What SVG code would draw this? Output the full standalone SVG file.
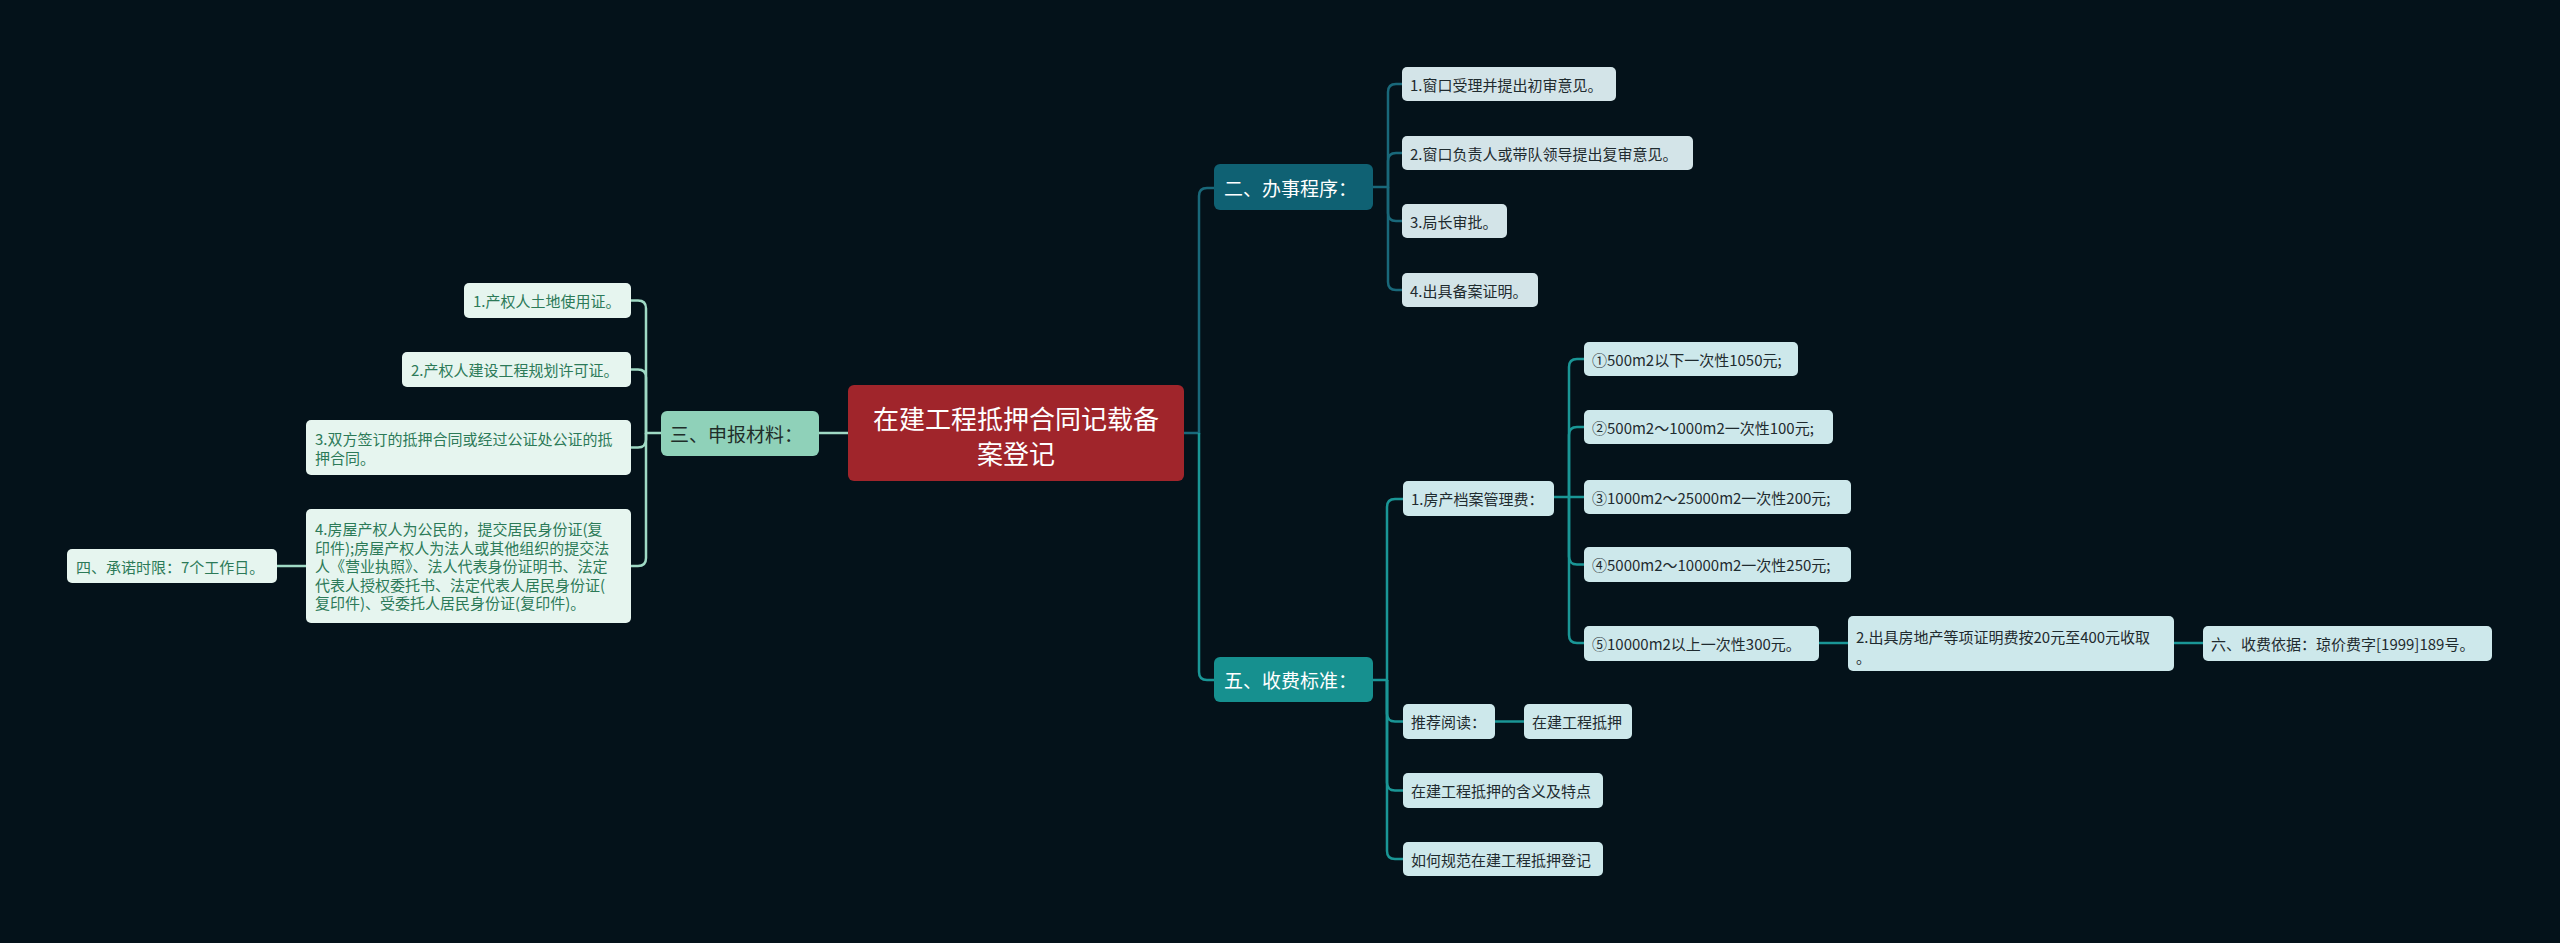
<svg xmlns="http://www.w3.org/2000/svg" width="2560" height="943" viewBox="0 0 2560 943">
<style>
text{font-family:"Noto Sans CJK SC","Noto Sans",sans-serif;dominant-baseline:central}
.c{fill:none;stroke-width:2.5}
.cl{stroke:#9fd9c4}
.cu{stroke:#19687a}
.cd{stroke:#1a9696}
.leafL rect{fill:#e6f5ef}
.leafL text{fill:#2c7a58;font-size:15px}
.leafU rect{fill:#d3e4e8}
.leafU text{fill:#1f2b2f;font-size:15px}
.leafD rect{fill:#cde8eb}
.leafD text{fill:#1f2b2f;font-size:15px}
.main text{fill:#ffffff;font-size:19px}
</style>
<rect x="0" y="0" width="2560" height="943" fill="#04121a"/>
<g id="connectors">
<path class="c cl" d="M848,433 H819"/>
<path class="c cl" d="M661,433 H646 V308.5 Q646,300.5 638,300.5 H631"/>
<path class="c cl" d="M646,433 V377.5 Q646,369.5 638,369.5 H631"/>
<path class="c cl" d="M646,433 V439.5 Q646,447.5 638,447.5 H631"/>
<path class="c cl" d="M646,433 V558 Q646,566 638,566 H631"/>
<path class="c cl" d="M306,566 H277"/>
<path class="c cu" d="M1184,433 H1199 V196 Q1199,188 1207,188 H1214"/>
<path class="c cd" d="M1199,433 V672 Q1199,680 1207,680 H1214"/>
<path class="c cu" d="M1373,187 H1388 V92 Q1388,84 1396,84 H1402"/>
<path class="c cu" d="M1388,187 V161 Q1388,153 1396,153 H1402"/>
<path class="c cu" d="M1388,187 V213 Q1388,221 1396,221 H1402"/>
<path class="c cu" d="M1388,187 V282 Q1388,290 1396,290 H1402"/>
<path class="c cd" d="M1373,680 H1387 V507 Q1387,499 1395,499 H1403"/>
<path class="c cd" d="M1387,680 V713.5 Q1387,721.5 1395,721.5 H1403"/>
<path class="c cd" d="M1387,680 V782.5 Q1387,790.5 1395,790.5 H1403"/>
<path class="c cd" d="M1387,680 V851 Q1387,859 1395,859 H1403"/>
<path class="c cd" d="M1495,721.5 H1524"/>
<path class="c cd" d="M1554,497 H1569 V367 Q1569,359 1577,359 H1584"/>
<path class="c cd" d="M1569,497 V435 Q1569,427 1577,427 H1584"/>
<path class="c cd" d="M1569,497 H1584"/>
<path class="c cd" d="M1569,497 V556.5 Q1569,564.5 1577,564.5 H1584"/>
<path class="c cd" d="M1569,497 V635 Q1569,643 1577,643 H1584"/>
<path class="c cd" d="M1819,643 H1848"/>
<path class="c cd" d="M2174,643 H2203"/>
</g>
<g id="root">
<rect x="848" y="385" width="336" height="96" rx="6" fill="#a0252b"/>
<text x="1016" y="417" font-size="26" fill="#ffffff" text-anchor="middle">在建工程抵押合同记载备</text>
<text x="1016" y="452" font-size="26" fill="#ffffff" text-anchor="middle">案登记</text>
</g>
<g id="n-shenbao">
<rect x="661" y="411" width="158" height="45" rx="6" fill="#8fd1b9"/>
<text x="670" y="433.5" font-size="19" fill="#1f2d29">三、申报材料：</text>
</g>
<g id="n-l1" class="leafL"><rect x="464" y="283" width="167" height="35" rx="5"/><text x="473" y="300.5">1.产权人土地使用证。</text></g>
<g id="n-l2" class="leafL"><rect x="402" y="352" width="229" height="35" rx="5"/><text x="411" y="369.5">2.产权人建设工程规划许可证。</text></g>
<g id="n-l3" class="leafL"><rect x="306" y="420" width="325" height="55" rx="5"/><text x="315" y="438.5">3.双方签订的抵押合同或经过公证处公证的抵</text><text x="315" y="457.5">押合同。</text></g>
<g id="n-l4" class="leafL"><rect x="306" y="509" width="325" height="114" rx="5"/>
<text x="315" y="528.5">4.房屋产权人为公民的，提交居民身份证(复</text>
<text x="315" y="547">印件);房屋产权人为法人或其他组织的提交法</text>
<text x="315" y="565.5">人《营业执照》、法人代表身份证明书、法定</text>
<text x="315" y="584">代表人授权委托书、法定代表人居民身份证(</text>
<text x="315" y="602.5">复印件)、受委托人居民身份证(复印件)。</text></g>
<g id="n-l5" class="leafL"><rect x="67" y="549" width="210" height="34" rx="5"/><text x="76" y="566">四、承诺时限：7个工作日。</text></g>
<g id="n-banshi" class="main"><rect x="1214" y="164" width="159" height="46" rx="6" fill="#0f6173"/><text x="1224" y="187">二、办事程序：</text></g>
<g id="n-r1" class="leafU"><rect x="1402" y="67" width="214" height="34" rx="5"/><text x="1410" y="84">1.窗口受理并提出初审意见。</text></g>
<g id="n-r2" class="leafU"><rect x="1402" y="136" width="291" height="34" rx="5"/><text x="1410" y="153">2.窗口负责人或带队领导提出复审意见。</text></g>
<g id="n-r3" class="leafU"><rect x="1402" y="204" width="105" height="34" rx="5"/><text x="1410" y="221">3.局长审批。</text></g>
<g id="n-r4" class="leafU"><rect x="1402" y="273" width="136" height="34" rx="5"/><text x="1410" y="290">4.出具备案证明。</text></g>
<g id="n-shoufei" class="main"><rect x="1214" y="657" width="159" height="45" rx="6" fill="#16908f"/><text x="1224" y="679.5">五、收费标准：</text></g>
<g id="n-f1" class="leafD"><rect x="1403" y="481" width="151" height="35" rx="5"/><text x="1411" y="498.5">1.房产档案管理费：</text></g>
<g id="n-s1" class="leafD"><rect x="1584" y="342" width="214" height="34" rx="5"/><text x="1592" y="359">①500m2以下一次性1050元;</text></g>
<g id="n-s2" class="leafD"><rect x="1584" y="410" width="249" height="34" rx="5"/><text x="1592" y="427">②500m2～1000m2一次性100元;</text></g>
<g id="n-s3" class="leafD"><rect x="1584" y="480" width="267" height="34" rx="5"/><text x="1592" y="497">③1000m2～25000m2一次性200元;</text></g>
<g id="n-s4" class="leafD"><rect x="1584" y="547" width="267" height="35" rx="5"/><text x="1592" y="564.5">④5000m2～10000m2一次性250元;</text></g>
<g id="n-s5" class="leafD"><rect x="1584" y="626" width="235" height="35" rx="5"/><text x="1592" y="643.5">⑤10000m2以上一次性300元。</text></g>
<g id="n-zm" class="leafD"><rect x="1848" y="616" width="326" height="55" rx="5"/><text x="1856" y="636">2.出具房地产等项证明费按20元至400元收取</text><text x="1856" y="656">。</text></g>
<g id="n-yiju" class="leafD"><rect x="2203" y="626" width="289" height="35" rx="5"/><text x="2211" y="643.5">六、收费依据：琼价费字[1999]189号。</text></g>
<g id="n-tj" class="leafD"><rect x="1403" y="704" width="92" height="35" rx="5"/><text x="1411" y="721.5">推荐阅读：</text></g>
<g id="n-tj1" class="leafD"><rect x="1524" y="704" width="108" height="35" rx="5"/><text x="1532" y="721.5">在建工程抵押</text></g>
<g id="n-f3" class="leafD"><rect x="1403" y="773" width="200" height="35" rx="5"/><text x="1411" y="790.5">在建工程抵押的含义及特点</text></g>
<g id="n-f4" class="leafD"><rect x="1403" y="842" width="200" height="34" rx="5"/><text x="1411" y="859">如何规范在建工程抵押登记</text></g>
</svg>
